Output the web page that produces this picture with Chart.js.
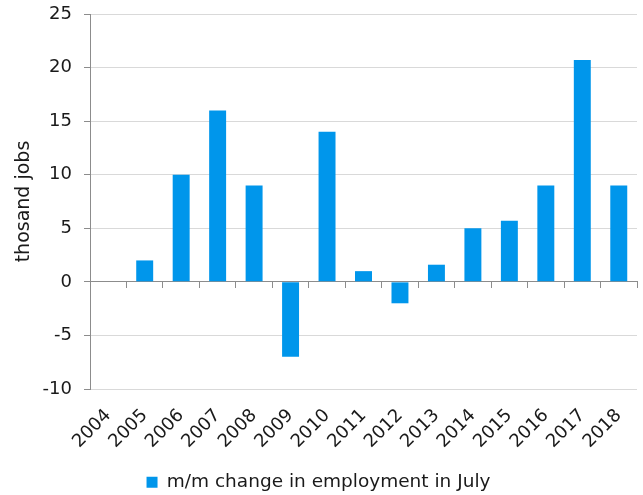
<!DOCTYPE html>
<html>
<head>
<meta charset="utf-8">
<script src="https://cdn.jsdelivr.net/npm/chart.js@4/dist/chart.umd.min.js"></script>
<style>
  html, body { margin: 0; padding: 0; background: #ffffff; }
  #wrap { width: 643px; height: 495px; }
</style>
</head>
<body>
<div id="wrap"><canvas id="c" width="643" height="495"></canvas></div>
<script>
// Years on the category axis
const years = ['2004', '2005', '2006', '2007', '2008', '2009', '2010', '2011',
               '2012', '2013', '2014', '2015', '2016', '2017', '2018'];
// Month-on-month change in employment in July, thousand jobs
const julyChange = [null, 2, 10, 16, 9, -7, 14, 1, -2, 1.6, 5, 5.7, 9, 20.7, 9];
// Value axis range and step
const yMin = -10;
const yMax = 25;
const yStep = 5;

const seriesName = 'm/m change in employment in July';
const axisTitle = 'thosand jobs';

const FONT = 'DejaVu Sans, Verdana, sans-serif';
const TEXT = '#1a1a1a';
const AXIS = '#8c8c8c';
const GRID = '#d9d9d9';
const BAR = '#0096eb';

Chart.defaults.font.family = FONT;
Chart.defaults.color = TEXT;

new Chart(document.getElementById('c'), {
  type: 'bar',
  data: {
    labels: years,
    datasets: [{
      label: seriesName,
      data: julyChange,
      backgroundColor: BAR,
      borderWidth: 0,
      barPercentage: 0.93,
      categoryPercentage: 0.5,
      xAxisID: 'x',
      yAxisID: 'y'
    }]
  },
  options: {
    responsive: false,
    animation: false,
    events: [],
    layout: { padding: { top: 14, right: 6, bottom: 0, left: 0 } },
    plugins: {
      tooltip: { enabled: false },
      legend: {
        position: 'bottom',
        maxHeight: 30,
        labels: {
          boxWidth: 11,
          boxHeight: 11,
          padding: 8,
          color: TEXT,
          font: { size: 18.5, family: FONT }
        }
      }
    },
    scales: {
      // Year labels along the bottom
      x: {
        type: 'category',
        position: 'bottom',
        offset: true,
        grid: { display: false, drawTicks: false },
        border: { display: false },
        ticks: {
          autoSkip: false,
          minRotation: 45,
          maxRotation: 45,
          padding: 16,
          color: TEXT,
          font: { size: 18, family: FONT }
        },
        afterFit: (s) => {
          s.height = 76;
          s.paddingLeft = 0;
          s.paddingRight = 0;
        }
      },
      // Zero baseline with tick marks between years
      x0: {
        type: 'category',
        labels: years,
        position: { y: 0 },
        offset: true,
        grid: {
          drawOnChartArea: false,
          drawTicks: true,
          tickLength: 6,
          tickColor: AXIS,
          offset: true
        },
        border: { display: true, color: AXIS, width: 1 },
        ticks: { display: false }
      },
      y: {
        min: yMin,
        max: yMax,
        position: 'left',
        ticks: {
          stepSize: yStep,
          padding: 12,
          color: TEXT,
          font: { size: 18, family: FONT }
        },
        grid: {
          color: (ctx) => (ctx.tick && ctx.tick.value === 0 ? AXIS : GRID),
          tickColor: AXIS,
          tickLength: 6
        },
        border: { display: true, color: AXIS, width: 1 },
        title: {
          display: true,
          text: axisTitle,
          color: TEXT,
          font: { size: 19, family: FONT },
          padding: { top: 13, bottom: 0 }
        },
        afterFit: (s) => {
          s.width = 90;
          s.paddingTop = 0;
          s.paddingBottom = 0;
        }
      }
    }
  }
});
</script>
</body>
</html>
